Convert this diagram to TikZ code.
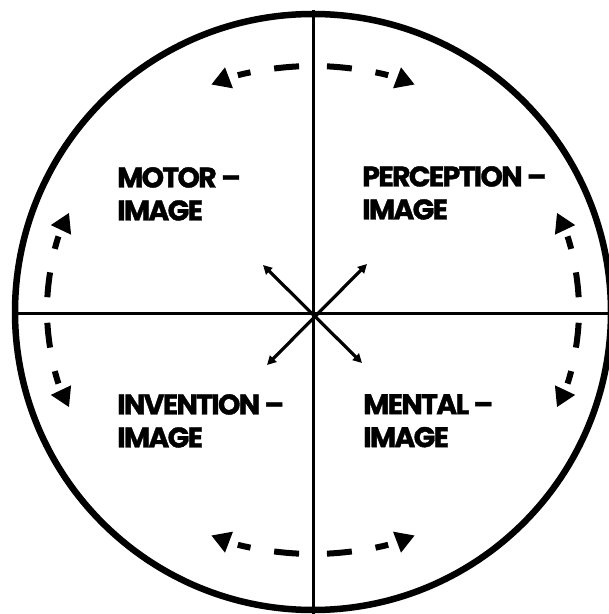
\documentclass[tikz,border=0pt]{standalone}
\usepackage{fontspec}
\newfontfamily\labfont{Poppins}[LetterSpace=-6, BoldFeatures={FakeBold=1.3}]
\usetikzlibrary{arrows.meta}
\tikzset{
  rim/.style={line width=6.5pt, black},
  axis/.style={line width=3pt, black},
  cyc/.style={line width=6pt, black, dash pattern=on 25pt off 24pt on 13pt off 60pt,
     -{Triangle[length=19pt,width=21pt]}},
  diag/.style={line width=3.2pt, black, {Triangle[length=9pt,width=9pt]}-{Triangle[length=9pt,width=9pt]}},
  lab/.style={anchor=north west, inner sep=0pt, align=left,
     font=\labfont\bfseries\fontsize{28.5}{33}\selectfont}
}
\begin{document}
\begin{tikzpicture}[x=1pt,y=1pt]
\useasboundingbox (0,0) rectangle (609,614);
\clip (0,0) rectangle (609,614);
\fill[white] (0,0) rectangle (609,614);
% centres
\coordinate (C) at (313,302);
\coordinate (E) at (313,304);
% rim and axes
\draw[rim] (C) circle[radius=298pt];
\coordinate (vt) at (313,604);
\coordinate (vb) at (313,0);
\coordinate (hl) at (15,300);
\coordinate (hr) at (609,300);
\draw[axis] (vt) -- (vb);
\draw[axis] (hl) -- (hr);
% dashed cycle arrows
\foreach \s/\e in {93/112.5, 87/67.5, 267/247.5, 273/292.5, 177/156.5, 183/203.5, 3/23.5, 357/336.5}{
  \draw[cyc] ([shift={(\s:266 and 244)}]E) arc[start angle=\s, end angle=\e, x radius=266pt, y radius=244pt];
}
% diagonal arrows
\coordinate (ul) at (263,349);
\coordinate (ur) at (367,350);
\coordinate (ll) at (267,249);
\coordinate (lr) at (362,251);
\draw[diag] (ul) -- (lr);
\draw[diag] (ur) -- (ll);
% labels
\node[lab] (motor) at (117,447) {MOTOR –\\IMAGE};
\node[lab] (perc) at (362,448) {PERCEPTION –\\IMAGE};
\node[lab] (inv) at (117,220) {INVENTION –\\IMAGE};
\node[lab] (ment) at (363,220) {MENTAL –\\IMAGE};
\end{tikzpicture}
\end{document}
